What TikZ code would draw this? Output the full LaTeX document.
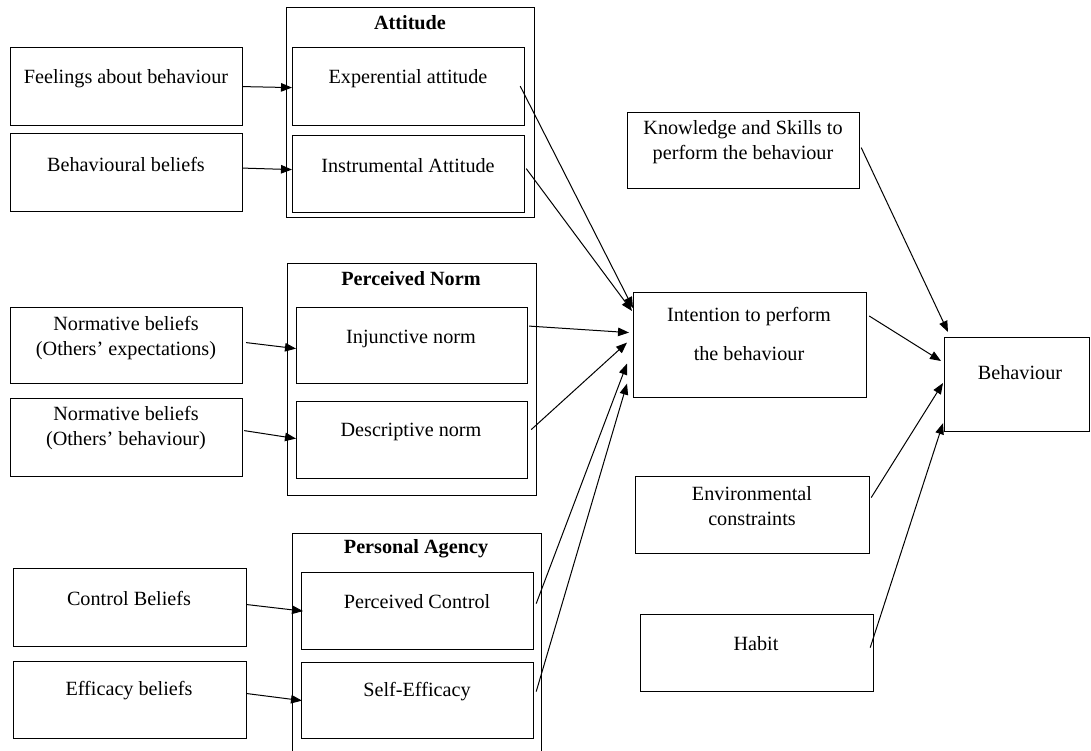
\documentclass[tikz,border=0pt]{standalone}
\usepackage{fontspec}
\setmainfont{Liberation Serif}
\usetikzlibrary{arrows.meta,calc}
\tikzset{
  box/.style={draw, line width=1.2pt, minimum width=232pt, minimum height=77pt, anchor=north west, inner sep=0pt},
  grp/.style={draw, line width=1.2pt, anchor=north west, inner sep=0pt},
  txt/.style={align=center, inner sep=0pt, font=\fontsize{20.2}{25}\selectfont},
  ttl/.style={txt, font=\fontsize{20.2}{25}\selectfont\bfseries},
  arr/.style={line width=1pt, -{Triangle[length=11pt,width=8.5pt]}}
}
\begin{document}
\begin{tikzpicture}[x=1pt,y=-1pt]
\useasboundingbox (0,0) rectangle (1091,751);
% group frames
\node[grp, minimum width=248pt, minimum height=210pt] (att) at (286,7) {};
\node[grp, minimum width=249pt, minimum height=232pt] (pn) at (287,263) {};
\node[grp, minimum width=249pt, minimum height=218pt] (pa) at (292,533) {};
\node[ttl] (attT) at (410,23) {Attitude};
\node[ttl] (pnT) at (411,279) {Perceived Norm};
\node[ttl] (paT) at (416,549) {Personal Agency};
% inner boxes
\node[box, minimum height=78pt] (exp) at (292,47) {};
\node[box] (ins) at (292,135) {};
\node[box, minimum width=231pt, minimum height=76pt] (inj) at (296,307) {};
\node[box, minimum width=231pt] (des) at (296,401) {};
\node[box] (pc) at (301,572) {};
\node[box, minimum height=76pt] (se) at (301,662) {};
% left boxes
\node[box, minimum height=78pt] (feel) at (10,47) {};
\node[box, minimum height=78pt] (bb) at (10,133) {};
\node[box, minimum height=76pt] (nb1) at (10,307) {};
\node[box, minimum height=78pt] (nb2) at (10,398) {};
\node[box, minimum width=233pt, minimum height=78pt] (cb) at (13,568) {};
\node[box, minimum width=233pt] (eb) at (13,661) {};
% right boxes
\node[box, minimum height=76pt] (know) at (627,112) {};
\node[box, minimum width=233pt, minimum height=105pt] (int) at (633,292) {};
\node[box, minimum width=145pt, minimum height=94pt] (beh) at (944,337) {};
\node[box, minimum width=234pt] (env) at (635,476) {};
\node[box, minimum width=233pt] (hab) at (640,614) {};
% texts
\node[txt] (feelT) at (126,79) {Feelings about behaviour};
\node[txt] (bbT) at (126,164) {Behavioural beliefs};
\node[txt] (expT) at (408,79) {Experential attitude};
\node[txt] (insT) at (408,166) {Instrumental Attitude};
\node[txt] (nb1T) at (126,338) {Normative beliefs\\(Others’ expectations)};
\node[txt] (nb2T) at (126,428) {Normative beliefs\\(Others’ behaviour)};
\node[txt] (injT) at (411,339) {Injunctive norm};
\node[txt] (desT) at (411,432) {Descriptive norm};
\node[txt] (cbT) at (129,598) {Control Beliefs};
\node[txt] (ebT) at (129,691) {Efficacy beliefs};
\node[txt] (pcT) at (417,602) {Perceived Control};
\node[txt] (seT) at (417,692) {Self-Efficacy};
\node[txt] (knowT) at (743,142) {Knowledge and Skills to\\perform the behaviour};
\node[txt, font=\fontsize{20.2}{39}\selectfont] (intT) at (749,334) {Intention to perform\\the behaviour};
\node[txt] (behT) at (1020,373) {Behaviour};
\node[txt] (envT) at (752,506) {Environmental\\constraints};
\node[txt] (habT) at (756,644) {Habit};
% connectors left -> construct
\draw[arr] ($(feel.east)+(0,0)$) -- ($(exp.west)+(0,1)$);
\draw[arr] ($(bb.east)+(0,-4.5)$) -- ($(ins.west)+(0,-4.5)$);
\draw[arr] ($(nb1.east)+(3,-3)$) -- ($(inj.west)+(0,3)$);
\draw[arr] ($(nb2.east)+(1,-7)$) -- ($(des.west)+(0,-1.5)$);
\draw[arr] ($(cb.east)+(0,-3)$) -- ($(pc.west)+(2,0)$);
\draw[arr] ($(eb.east)+(0,-6.5)$) -- ($(se.west)+(1,0)$);
% connectors construct -> intention
\draw[arr] ($(exp.east)+(-5,-0.5)$) -- ($(int.north west)+(0,16)$);
\draw[arr] ($(ins.east)+(1,-5.5)$) -- ($(int.north west)+(-1,19)$);
\draw[arr] ($(inj.east)+(1,-19.5)$) -- ($(int.west)+(-4,-12.5)$);
\draw[arr] ($(des.east)+(3,-10.5)$) -- ($(int.west)+(-6,-2.5)$);
\draw[arr] ($(pc.east)+(2,-7.5)$) -- ($(int.west)+(-6,18.5)$);
\draw[arr] ($(se.east)+(2,-9)$) -- ($(int.west)+(-6,38.5)$);
% connectors -> behaviour
\draw[arr] ($(know.east)+(1,-3)$) -- ($(beh.north west)+(4,-5)$);
\draw[arr] ($(int.north east)+(2,24)$) -- ($(beh.north west)+(-3,24)$);
\draw[arr] ($(env.east)+(1,-17.5)$) -- ($(beh.north west)+(-1,46)$);
\draw[arr] ($(hab.east)+(-4,-5.5)$) -- ($(beh.south west)+(-1,-9)$);
\end{tikzpicture}
\end{document}
